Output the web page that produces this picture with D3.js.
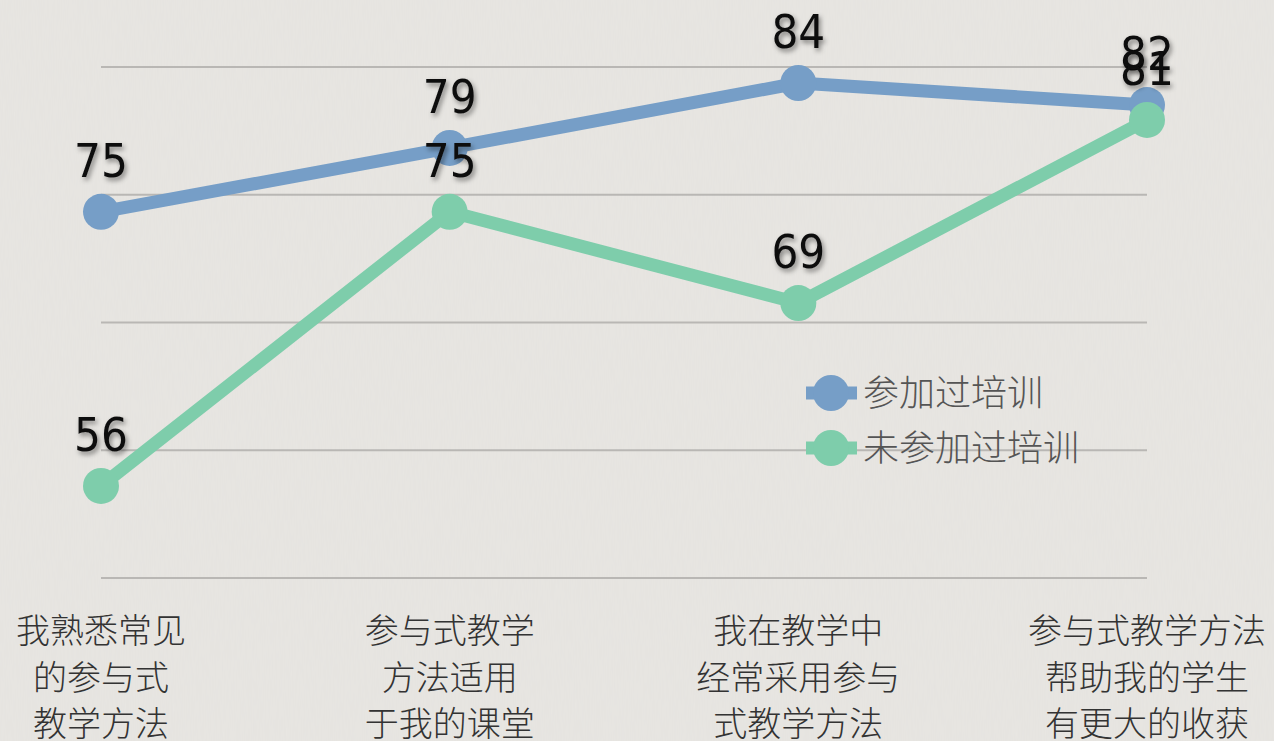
<!DOCTYPE html>
<html>
<head>
<meta charset="utf-8">
<script src="https://cdn.jsdelivr.net/npm/d3@7"></script>
<style>
  html, body { margin: 0; padding: 0; background: #e8e6e2; }
  svg { display: block; }
  .val { font-family: "Liberation Sans Narrow", "DejaVu Sans Condensed", "Liberation Sans", sans-serif; font-size: 47px; fill: #111; }
  .cat { font-family: "Noto Sans CJK SC", sans-serif; font-size: 34px; fill: #333; font-weight: 300; }
  .leg { font-family: "Noto Sans CJK SC", sans-serif; font-size: 36px; fill: #555; font-weight: 300; }
</style>
</head>
<body>
<svg id="chart" width="1274" height="741"></svg>
<script>
// categories (x axis), one label per line
const categories = [
    ["我熟悉常见", "的参与式", "教学方法"],
    ["参与式教学", "方法适用", "于我的课堂"],
    ["我在教学中", "经常采用参与", "式教学方法"],
    ["参与式教学方法", "帮助我的学生", "有更大的收获"]
];

// series
const seriesNames = ["参加过培训", "未参加过培训"];
const trained = [75.05, 79.42, 83.87, 82.36];
const untrained = [56.27, 75.05, 68.8, 81.34];
const seriesColors = ["#769ec7", "#7ecdab"];

// gridline values
const yTicks = [50, 58.75, 67.5, 76.25, 85];

const svg = d3.select("#chart");
const width = 1274, height = 741;

// background with a faint paper texture
const defs = svg.append("defs");
const paper = defs.append("filter").attr("id", "paper")
    .attr("x", 0).attr("y", 0).attr("width", "100%").attr("height", "100%");
paper.append("feTurbulence").attr("type", "fractalNoise")
    .attr("baseFrequency", "0.9 0.05").attr("numOctaves", 2).attr("seed", 3);
paper.append("feColorMatrix").attr("type", "matrix")
    .attr("values", "0 0 0 0 0.5  0 0 0 0 0.5  0 0 0 0 0.5  0 0 0 0.07 0");

const shadow = defs.append("filter").attr("id", "shadow")
    .attr("x", "-30%").attr("y", "-30%").attr("width", "160%").attr("height", "160%");
shadow.append("feDropShadow").attr("dx", 2).attr("dy", 3)
    .attr("stdDeviation", 2.5).attr("flood-color", "#000").attr("flood-opacity", 0.45);

svg.append("rect").attr("width", width).attr("height", height).attr("fill", "#e8e6e2");
svg.append("rect").attr("width", width).attr("height", height).attr("filter", "url(#paper)");

const x = d3.scalePoint()
    .domain(d3.range(categories.length))
    .range([101, 1147]);

const y = d3.scaleLinear()
    .domain([50, 85])
    .range([577.5, 66.5]);

// gridlines
const grid = d3.axisLeft(y).tickValues(yTicks).tickSize(-(1147 - 101)).tickFormat("");
svg.append("g")
    .attr("transform", "translate(101,0)")
    .call(grid)
    .call(g => g.select(".domain").remove())
    .call(g => g.selectAll("line").attr("stroke", "#b9b7b4").attr("stroke-width", 2));

// category labels
const xAxis = svg.append("g");
categories.forEach((lines, i) => {
    const t = xAxis.append("text").attr("class", "cat")
        .attr("text-anchor", "middle")
        .attr("x", x(i)).attr("y", 643);
    lines.forEach((ln, j) => {
        t.append("tspan").attr("x", x(i)).attr("dy", j === 0 ? 0 : 46.5).text(ln);
    });
});

const line = d3.line().x((d, i) => x(i)).y(d => y(d));

const allSeries = [trained, untrained];
allSeries.forEach((vals, s) => {
    const g = svg.append("g");
    g.append("path")
        .attr("d", line(vals))
        .attr("fill", "none")
        .attr("stroke", seriesColors[s])
        .attr("stroke-width", 13)
        .attr("stroke-linejoin", "round");
    g.selectAll("circle").data(vals).join("circle")
        .attr("cx", (d, i) => x(i))
        .attr("cy", d => y(d))
        .attr("r", 18)
        .attr("fill", seriesColors[s]);
});

// data labels
allSeries.forEach(vals => {
    svg.append("g").selectAll("text").data(vals).join("text")
        .attr("class", "val")
        .attr("text-anchor", "middle")
        .attr("filter", "url(#shadow)")
        .attr("x", (d, i) => x(i))
        .attr("y", d => y(d) - 35)
        .text(d => Math.round(d));
});

// legend
const legend = svg.append("g");
seriesNames.forEach((name, i) => {
    const ly = 393 + i * 55;
    legend.append("line")
        .attr("x1", 806).attr("x2", 857).attr("y1", ly).attr("y2", ly)
        .attr("stroke", seriesColors[i]).attr("stroke-width", 13);
    legend.append("circle").attr("cx", 831).attr("cy", ly).attr("r", 18)
        .attr("fill", seriesColors[i]);
    legend.append("text").attr("class", "leg")
        .attr("x", 863).attr("y", ly).attr("dy", "0.36em")
        .text(name);
});
</script>
</body>
</html>
